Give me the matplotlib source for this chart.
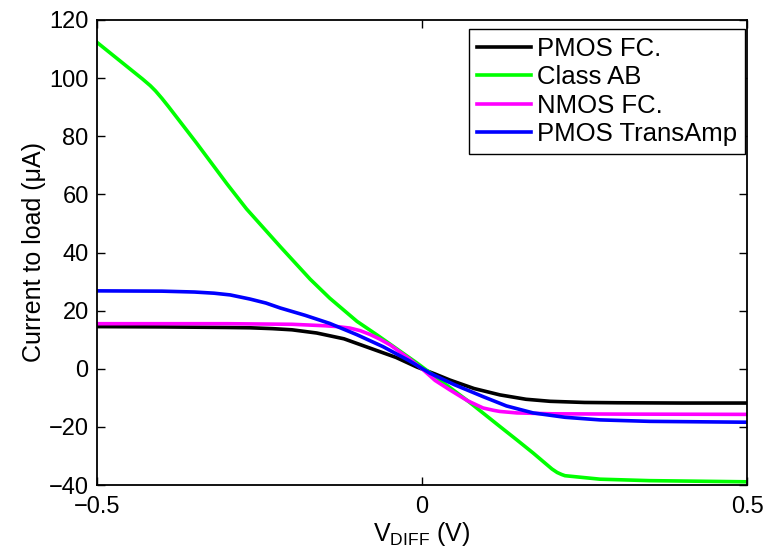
import matplotlib
matplotlib.use("Agg")
import matplotlib.pyplot as plt

plt.rcParams['font.family'] = ['Liberation Sans', 'DejaVu Sans']
plt.rcParams['mathtext.fontset'] = 'custom'
plt.rcParams['mathtext.rm'] = 'Liberation Sans'
plt.rcParams['mathtext.it'] = 'Liberation Sans'

# differential input sweep (V) and output current (uA) per amplifier
pmos_fc_x = [-0.5, -0.4, -0.3, -0.265, -0.23, -0.2, -0.162, -0.12, -0.085, -0.04, -0.008,
             0.02, 0.043, 0.08, 0.12, 0.16, 0.197, 0.25, 0.3, 0.4, 0.5]
pmos_fc_y = [14.5, 14.4, 14.2, 14.1, 13.8, 13.4, 12.3, 10.3, 7.5, 3.9, 0.6,
             -1.8, -3.9, -6.8, -9.0, -10.5, -11.2, -11.6, -11.7, -11.8, -11.8]

class_ab_x = [-0.5, -0.46, -0.43, -0.418, -0.41, -0.40, -0.39, -0.347, -0.3, -0.27,
              -0.218, -0.172, -0.142, -0.1, -0.069, -0.008, 0.069, 0.12, 0.146, 0.171,
              0.2, 0.208, 0.215, 0.22, 0.274, 0.35, 0.5]
class_ab_y = [112.3, 105.1, 99.7, 97.4, 95.6, 93.0, 90.2, 77.7, 63.6, 55.0,
              42.0, 30.8, 24.3, 16.3, 11.6, 2.0, -10.8, -19.9, -24.5, -29.0,
              -34.5, -35.7, -36.4, -36.8, -38.0, -38.5, -38.9]

nmos_fc_x = [-0.5, -0.3, -0.2, -0.15, -0.13, -0.111, -0.095, -0.08, -0.065, -0.049,
             -0.02, 0.002, 0.02, 0.043, 0.07, 0.094, 0.11, 0.12, 0.146, 0.2, 0.3, 0.5]
nmos_fc_y = [15.5, 15.5, 15.3, 14.8, 14.5, 14.0, 13.1, 11.8, 10.2, 8.2,
             3.5, -0.4, -4.0, -7.3, -11.0, -13.5, -14.3, -14.7, -15.2, -15.5, -15.6, -15.7]

transamp_x = [-0.5, -0.4, -0.35, -0.32, -0.295, -0.265, -0.24, -0.218, -0.18, -0.142,
              -0.1, -0.06, -0.02, 0.012, 0.05, 0.094, 0.13, 0.171, 0.22, 0.274, 0.35, 0.5]
transamp_y = [26.8, 26.7, 26.4, 26.0, 25.4, 24.0, 22.6, 20.9, 18.4, 15.6,
              11.7, 7.6, 2.8, -1.5, -5.5, -9.6, -12.8, -15.2, -16.7, -17.6, -18.1, -18.4]

fig = plt.figure(figsize=(7.7, 5.59), dpi=100)
ax = fig.add_axes([97 / 770, 74 / 559, 650 / 770, 465 / 559])

lw = 2.6
ax.plot(pmos_fc_x, pmos_fc_y, color='k', lw=lw, label='PMOS FC.')
ax.plot(class_ab_x, class_ab_y, color=(0, 1, 0), lw=lw, label='Class AB')
ax.plot(nmos_fc_x, nmos_fc_y, color=(1, 0, 1), lw=lw, label='NMOS FC.')
ax.plot(transamp_x, transamp_y, color=(0, 0, 1), lw=lw, label='PMOS TransAmp')

ax.set_xlim(-0.5, 0.5)
ax.set_ylim(-40, 120)
ax.set_xticks([-0.5, 0, 0.5])
ax.set_xticklabels(['\u22120.5', '0', '0.5'])
ax.set_yticks(range(-40, 121, 20))

ax.tick_params(direction='in', top=True, right=True, length=6, width=1.0,
               labelsize=17)
ax.tick_params(axis='x', pad=8)
ax.tick_params(axis='y', pad=6)
for s in ax.spines.values():
    s.set_linewidth(1.3)

ax.set_xlabel(r'V$_{\mathrm{DIFF}}$ (V)', fontsize=18, labelpad=1)
ax.set_ylabel('Current to load (\u03bcA)', fontsize=18, labelpad=2)

leg = ax.legend(loc='upper right', bbox_to_anchor=(0.997, 0.981), borderaxespad=0,
                fontsize=18.5, fancybox=False, framealpha=1, edgecolor='k',
                handlelength=2.1, handletextpad=0.25, labelspacing=0.18,
                borderpad=0.3)
leg.get_frame().set_linewidth(1.0)

fig.savefig('out.png', dpi=100)
